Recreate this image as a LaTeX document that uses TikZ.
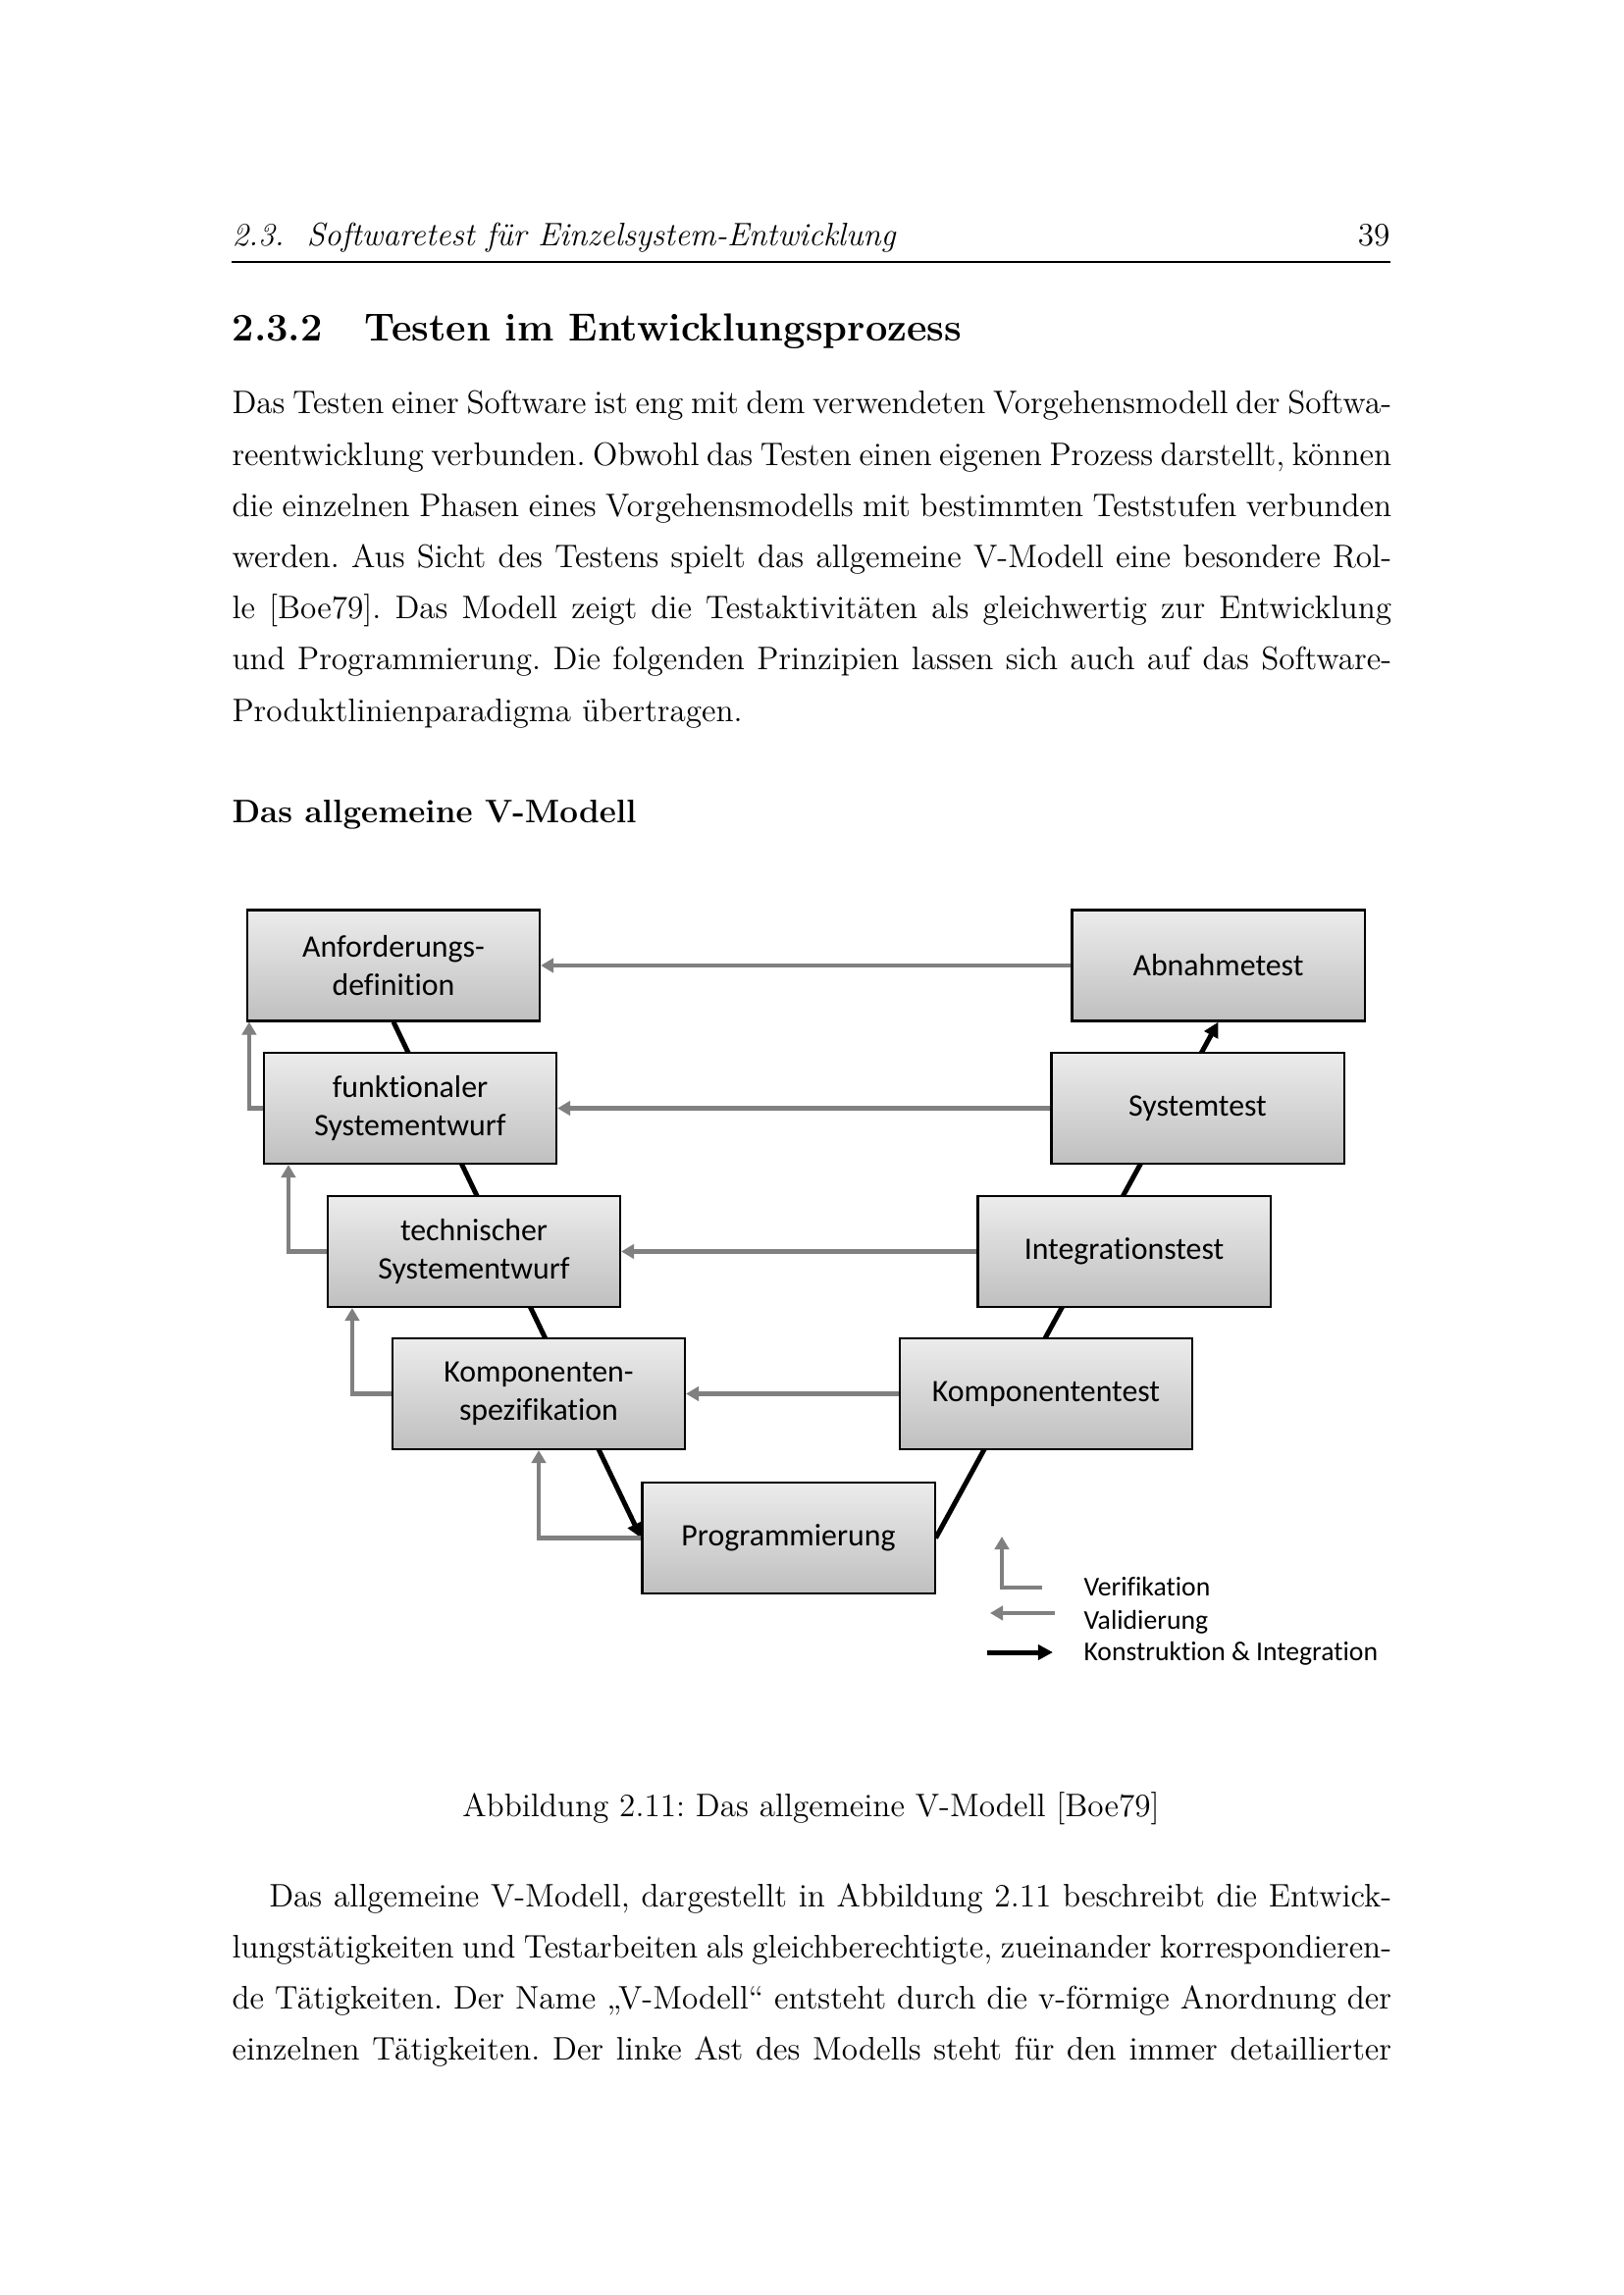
\documentclass[tikz,border=0pt]{standalone}
\usepackage{fontspec}
\newfontfamily\boxfont[Ligatures=NoCommon]{Carlito}
\usetikzlibrary{arrows.meta, calc, backgrounds}
\definecolor{verifgray}{RGB}{128,128,128}
\frenchspacing

\begin{document}
\begin{tikzpicture}[
        x=0.0126965cm, y=-0.0126965cm,
        bodytext/.style={anchor=base west, inner sep=0pt, font=\fontsize{12}{14.5}\selectfont},
        phase/.style={draw=black, line width=0.75pt, top color=gray!15, bottom color=gray!50,
            minimum width=3.784cm, minimum height=1.435cm, inner sep=0pt, align=center,
            font=\boxfont\fontsize{11.5}{14}\selectfont},
        keytext/.style={anchor=base west, inner sep=0pt, font=\boxfont\fontsize{10}{12}\selectfont},
        construct/.style={line width=1.8pt, -{Triangle[length=5.5pt, width=5.5pt]}},
        verif/.style={verifgray, line width=1.6pt, -{Triangle[length=4.7pt, width=5.2pt]}},
    ]

    \useasboundingbox (0,0) rectangle (1654,2339);

    \def\xleft{236}
    \def\xright{1417}
    \def\lskip{52.2}

    % running head
    \node[bodytext, font=\fontsize{12}{14.5}\selectfont\itshape] (runhead) at (\xleft,251)
        {2.3.\hspace{0.7em}Softwaretest für Einzelsystem-Entwicklung};
    \node[bodytext, anchor=base east] (pagenum) at (\xright,251) {39};
    \draw[line width=0.4pt] (\xleft,267) -- (\xright,267);

    % section
    \node[bodytext, font=\fontsize{14.4}{18}\selectfont\bfseries] (secnum) at (\xleft,348) {2.3.2};
    \node[bodytext, font=\fontsize{14.4}{18}\selectfont\bfseries] (sectitle) at (371,348)
        {Testen im Entwicklungsprozess};

    \foreach \txt [count=\i from 0] in {
        {Das Testen einer Software ist eng mit dem verwendeten Vorgehensmodell der Softwa-},
        {reentwicklung verbunden. Obwohl das Testen einen eigenen Prozess darstellt, können},
        {die einzelnen Phasen eines Vorgehensmodells mit bestimmten Teststufen verbunden},
        {werden. Aus Sicht des Testens spielt das allgemeine V-Modell eine besondere Rol-},
        {le [Boe79]. Das Modell zeigt die Testaktivitäten als gleichwertig zur Entwicklung},
        {und Programmierung. Die folgenden Prinzipien lassen sich auch auf das Software-}}
        \node[bodytext] (para1-\i) at (\xleft, 422+\i*\lskip) {\makebox[15cm][s]{\txt}};
    \node[bodytext] (para1-6) at (\xleft, 422+6*\lskip) {Produktlinienparadigma übertragen.};

    \node[bodytext, font=\fontsize{12}{14.5}\selectfont\bfseries] (subhead) at (\xleft,838)
        {Das allgemeine V-Modell};

    % left branch
    \node[phase] (anf) at (401,984) {Anforderungs-\\definition};
    \node[phase] (fse) at (418,1129.5) {funktionaler\\Systementwurf};
    \node[phase] (tse) at (483,1275.5) {technischer\\Systementwurf};
    \node[phase] (ksp) at (549,1420.5) {Komponenten-\\spezifikation};
    \node[phase] (prog) at (803.5,1567.5) {Programmierung};
    % right branch
    \node[phase] (abn) at (1241.5,984) {Abnahmetest};
    \node[phase] (sys) at (1220.5,1129.5) {Systemtest};
    \node[phase] (int) at (1145.5,1275.5) {Integrationstest};
    \node[phase] (kte) at (1066,1420.5) {Komponententest};

    % validation
    \foreach \a/\b in {abn/anf, sys/fse, int/tse, kte/ksp}
        \draw[verif] (\a.west) -- (\b.east);

    % verification
    \draw[verif] (fse.west) -| ($(anf.south west)+(3,0)$);
    \draw[verif] (tse.west) -| ($(fse.south west)+(26,0)$);
    \draw[verif] (ksp.west) -| ($(tse.south west)+(26,0)$);
    \draw[verif] (prog.west) -| (ksp.south);

    % construction & integration, behind the boxes
    \begin{scope}[on background layer]
        \fill[white] (0,0) rectangle (1654,2339);
        \draw[construct] (anf.south) -- (prog.west);
        \draw[construct] (prog.east) -- (abn.south);
    \end{scope}

    % key
    \coordinate (keyv1) at (1062,1618);
    \coordinate (keyv2) at (1021,1566);
    \draw[verif] (keyv1) -| (keyv2);
    \node[keytext] (keyverif) at (1104,1626) {Verifikation};
    \coordinate (keyva1) at (1075,1644);
    \coordinate (keyva2) at (1009,1644);
    \draw[verif] (keyva1) -- (keyva2);
    \node[keytext] (keyvalid) at (1104,1660) {Validierung};
    \coordinate (keyk1) at (1006,1684);
    \coordinate (keyk2) at (1073,1684);
    \draw[construct] (keyk1) -- (keyk2);
    \node[keytext] (keykons) at (1104,1692) {Konstruktion \& Integration};

    % caption
    \node[bodytext, anchor=base] (caption) at (826.5,1851)
        {Abbildung 2.11: Das allgemeine V-Modell [Boe79]};

    \foreach \txt [count=\i from 0] in {
        {\hspace*{0.48cm}Das allgemeine V-Modell, dargestellt in Abbildung 2.11 beschreibt die Entwick-},
        {lungstätigkeiten und Testarbeiten als gleichberechtigte, zueinander korrespondieren-},
        {de Tätigkeiten. Der Name „V-Modell“ entsteht durch die v-förmige Anordnung der},
        {einzelnen Tätigkeiten. Der linke Ast des Modells steht für den immer detaillierter}}
        \node[bodytext] (para2-\i) at (\xleft, 1943+\i*\lskip) {\makebox[15cm][s]{\txt}};

\end{tikzpicture}
\end{document}
